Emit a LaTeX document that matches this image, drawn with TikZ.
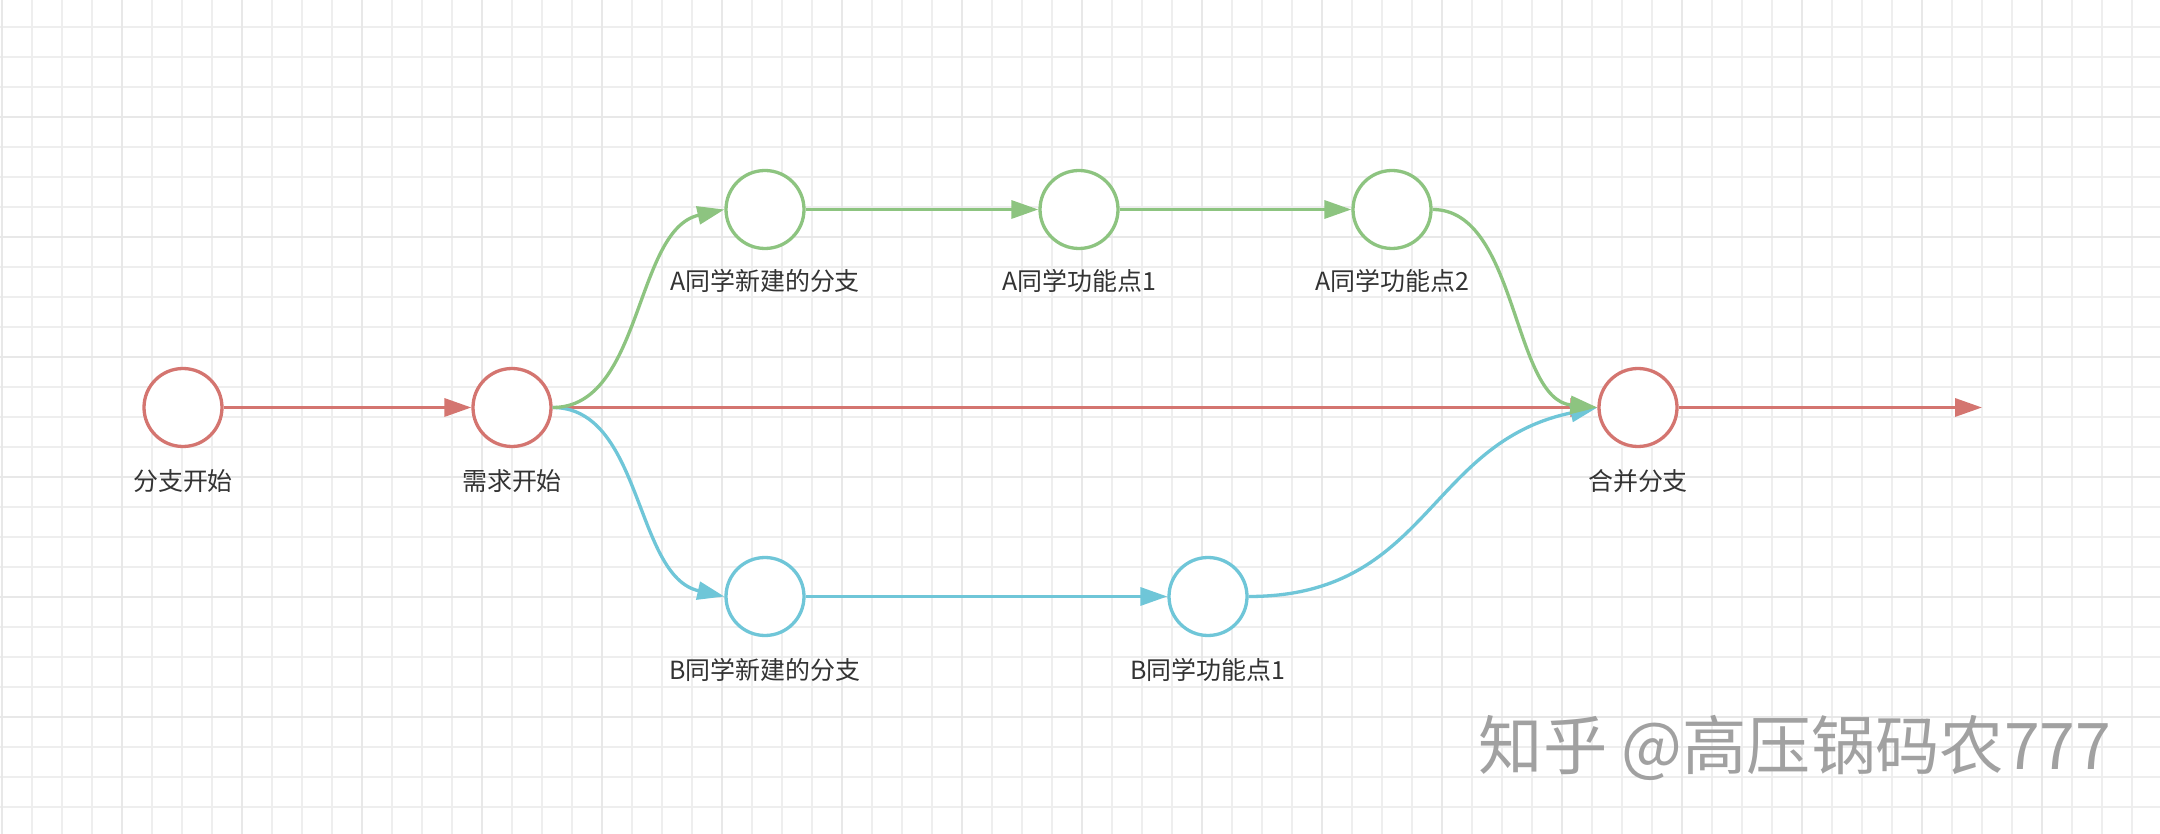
\documentclass[tikz,border=0pt]{standalone}
\usepackage{fontspec}
\setmainfont{Noto Sans CJK SC}
\usepackage{tikz}
\usetikzlibrary{arrows.meta, positioning, calc}
\usepackage{xcolor}
\definecolor{brred}{HTML}{D47570}
\definecolor{brgreen}{HTML}{8DC480}
\definecolor{brblue}{HTML}{6FC6D8}
\definecolor{gridmin}{HTML}{EEEEEE}
\definecolor{gridmaj}{HTML}{E8E8E8}

\begin{document}
\begin{tikzpicture}[
  x=0.1mm, y=-0.1mm,
  font=\fontsize{7.1pt}{8.5pt}\selectfont,
  commit/.style={
    circle, draw=#1, fill=white, line width=0.33mm,
    minimum size=7.8mm, inner sep=0pt
  },
  lbl/.style={text=black!80, inner sep=0pt},
  br/.style={draw=#1, line width=0.33mm, -{Triangle[length=2.7mm, width=1.8mm]}},
  gmin/.style={draw=gridmin, line width=0.17mm},
  gmaj/.style={draw=gridmaj, line width=0.22mm},
  wmark/.style={text=black!37, font=\fontsize{18.3pt}{22pt}\selectfont, inner sep=0pt}
]

% ---- paper and grid
\useasboundingbox (0,0) rectangle (2160,834);
\fill[white] (0,0) rectangle (2160,834);
\foreach \gx in {1.7,31.7,...,2160}
  \draw[gmin] (\gx,0) -- (\gx,834);
\foreach \gy in {26.7,56.7,...,834}
  \draw[gmin] (0,\gy) -- (2160,\gy);
\foreach \gx in {1.7,121.7,...,2160}
  \draw[gmaj] (\gx,0) -- (\gx,834);
\foreach \gy in {116.7,236.7,...,834}
  \draw[gmaj] (0,\gy) -- (2160,\gy);

% ---- main line
\node[commit=brred] (start) at (183,407.5)  {};
\node[commit=brred] (req)   at (512,407.5)  {};
\node[commit=brred] (merge) at (1638,407.5) {};
\coordinate (mainend) at (1982,407.5);

% ---- branch of A
\node[commit=brgreen] (anew) at (765,209.5)  {};
\node[commit=brgreen] (aone) at (1079,209.5) {};
\node[commit=brgreen] (atwo) at (1392,209.5) {};

% ---- branch of B
\node[commit=brblue] (bnew) at (765,596.5)  {};
\node[commit=brblue] (bone) at (1208,596.5) {};

% ---- labels
\node[lbl] (startlbl) at (183,481)  {分支开始};
\node[lbl] (reqlbl)   at (512,481)  {需求开始};
\node[lbl] (mergelbl) at (1638,481) {合并分支};
\node[lbl] (anewlbl)  at (765,281)  {A同学新建的分支};
\node[lbl] (aonelbl)  at (1079,281) {A同学功能点1};
\node[lbl] (atwolbl)  at (1392,281) {A同学功能点2};
\node[lbl] (bnewlbl)  at (765,670)  {B同学新建的分支};
\node[lbl] (bonelbl)  at (1208,670) {B同学功能点1};

% ---- connectors
\draw[br=brred] (start) -- (req);
\draw[br=brred] (req) -- (merge);
\draw[br=brred] (merge) -- (mainend);

\draw[br=brblue] (req.east) .. controls +(90,0) and +(-90,-20) .. (bnew.west);
\draw[br=brblue] (bnew) -- (bone);
\draw[br=brblue] (bone.east) .. controls +(180,0) and +(-170,35) .. (merge.west);

\draw[br=brgreen] (req.east) .. controls +(90,0) and +(-90,20) .. (anew.west);
\draw[br=brgreen] (anew) -- (aone);
\draw[br=brgreen] (aone) -- (atwo);
\draw[br=brgreen] (atwo.east) .. controls +(85,0) and +(-85,-8) .. (merge.west);

% ---- watermark
\node[wmark, anchor=west] (mark) at (1478,748) {知乎 @高压锅码农777};

\end{tikzpicture}
\end{document}
